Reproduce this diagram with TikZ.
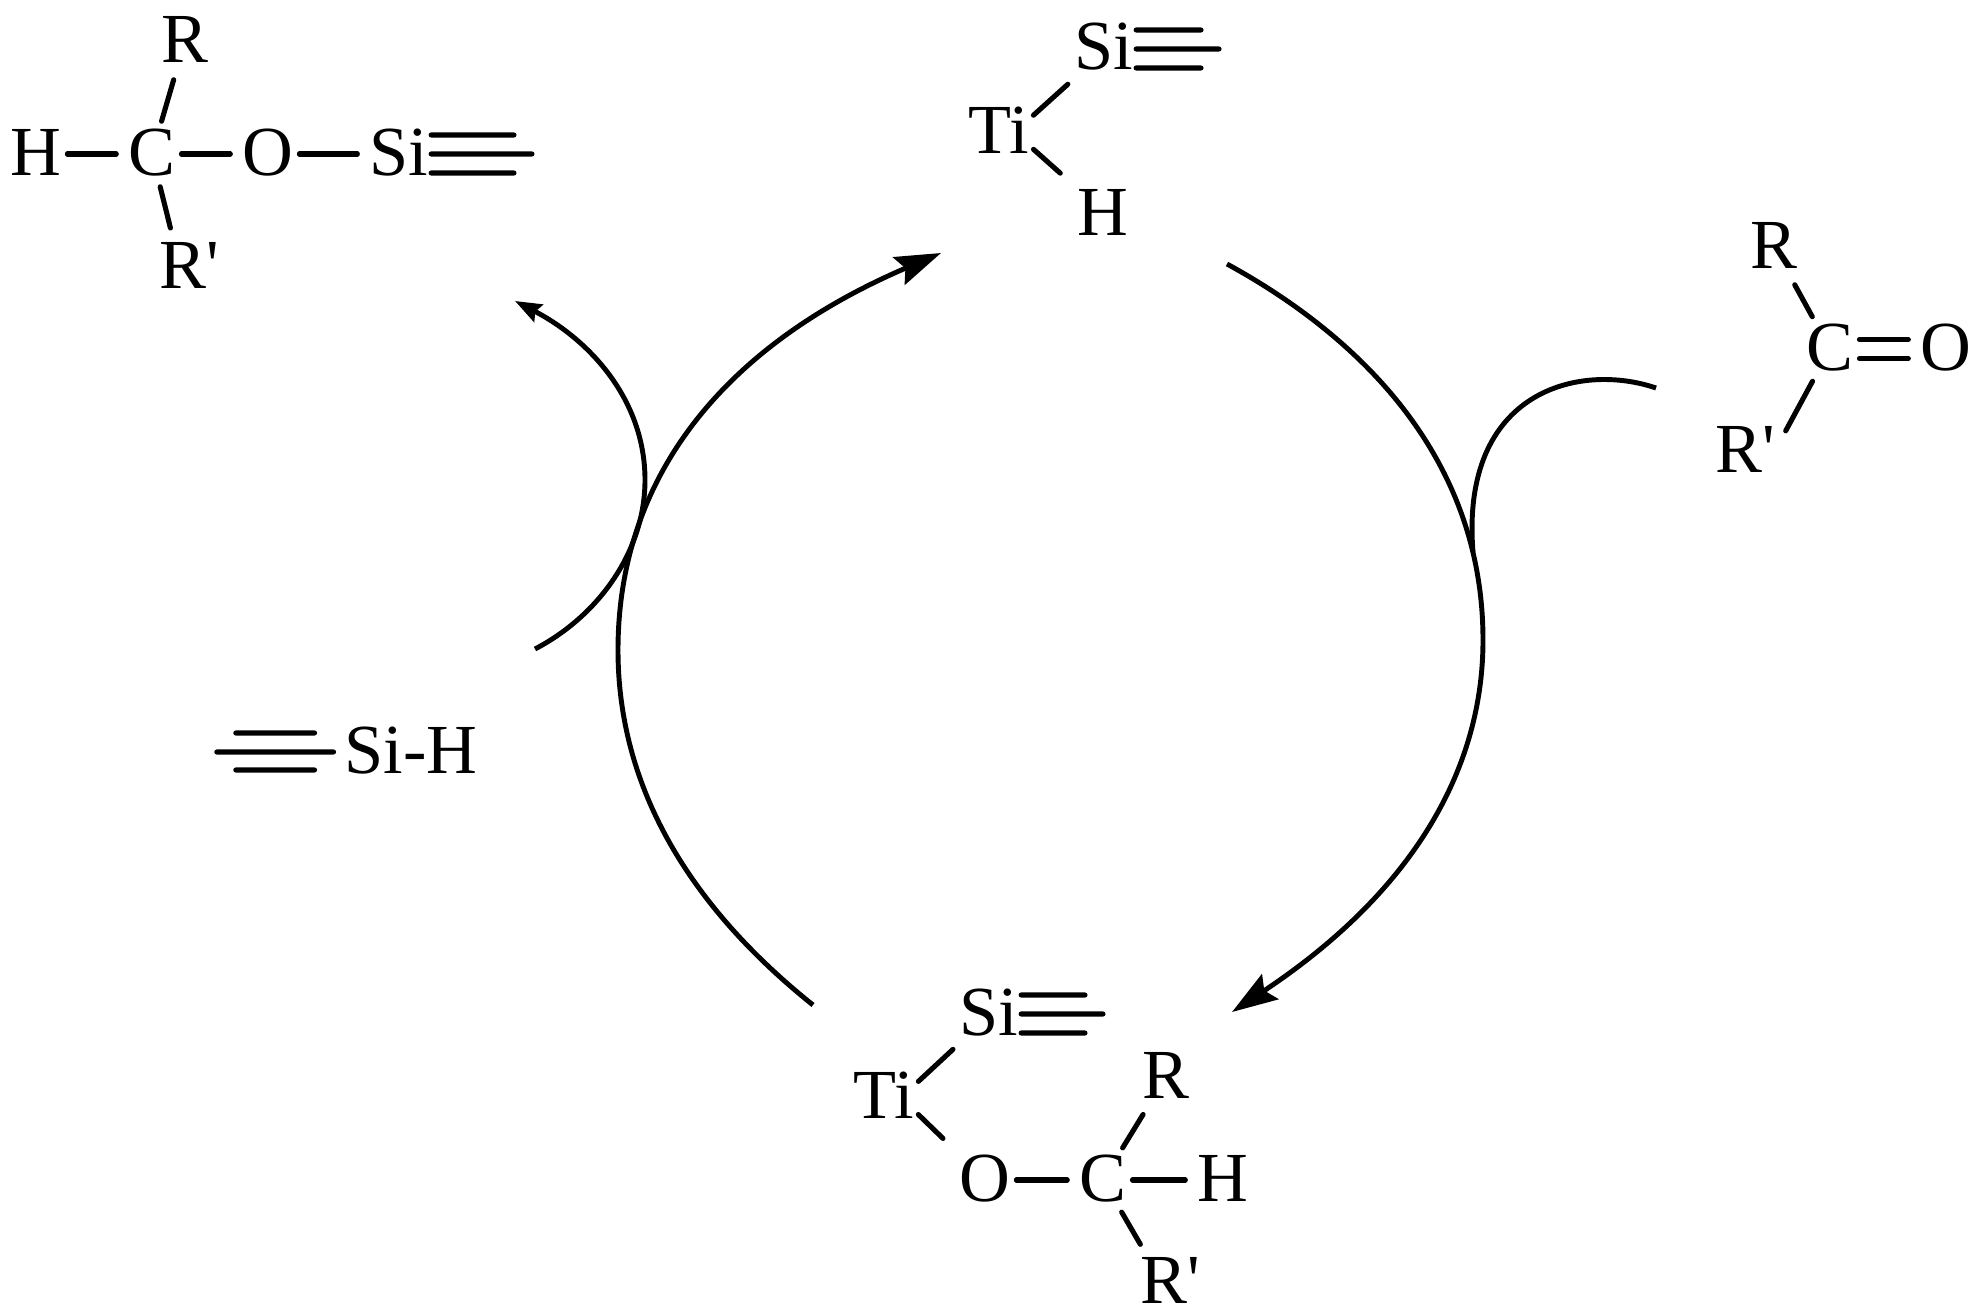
\documentclass[tikz,border=0pt]{standalone}
\usepackage{fontspec}
\usetikzlibrary{arrows.meta}
\newfontfamily\atomfont{Liberation Serif}
\tikzset{
	atom/.style={anchor=base,inner sep=0pt,outer sep=0pt,text height=13.66pt,text depth=1.7pt,font=\atomfont\fontsize{20}{24}\selectfont},
	bond/.style={line width=1.45pt,line cap=round,shorten <=1.7pt,shorten >=3.5pt},
	tbond/.style={line width=1.45pt,line cap=round,shorten <=0.8pt},
	cycle arrow/.style={line width=1.4pt,-{Stealth[length=13pt,width=8.5pt,inset=2pt]}},
	cycle line/.style={line width=1.4pt},
	side arrow/.style={line width=1.4pt,-{Stealth[length=7.5pt,width=5.5pt,inset=1pt]}}
}
\newcommand{\triplebond}[2]{
	\draw[tbond] (#1.east) -- (#2);
	\draw[tbond] ([shift={(0,-19)}]#1.east) -- ([shift={(-18,-19)}]#2);
	\draw[tbond] ([shift={(0,19)}]#1.east) -- ([shift={(-18,19)}]#2);
}
\begin{document}
\begin{tikzpicture}[x=0.01cm,y=-0.01cm]
	\useasboundingbox (0,0) rectangle (1978,1315);
	% product, top left
	\node[atom] (h1) at (36,175) {H};
	\node[atom] (c1) at (152,175) {C};
	\node[atom] (o1) at (268,175) {O};
	\node[atom] (si1) at (399,175) {Si};
	\node[atom] (r1) at (185,62) {R};
	\node[atom] (r2) at (189,288) {R'};
	\coordinate (t1) at (532,154);
	\draw[bond] (h1) -- (c1);
	\draw[bond] (c1) -- (o1);
	\draw[bond] (o1) -- (si1);
	\draw[bond] (c1) -- (r1);
	\draw[bond] (c1) -- (r2.120);
	\triplebond{si1}{t1}

	% hydride, top
	\node[atom] (ti1) at (999,153) {Ti};
	\node[atom] (si2) at (1104,70) {Si};
	\node[atom] (h2) at (1103,235) {H};
	\coordinate (t2) at (1219,49);
	\draw[bond] (ti1.23) -- (si2.225);
	\draw[bond,shorten >=6.6pt] (ti1.-24) -- (h2.135);
	\triplebond{si2}{t2}

	% ketone, right
	\node[atom] (c2) at (1830,370) {C};
	\node[atom] (o2) at (1946,370) {O};
	\node[atom] (r3) at (1774,268) {R};
	\node[atom] (r4) at (1745,472) {R'};
	\draw[bond] (c2) -- (r3);
	\draw[bond,shorten >=6.5pt] (c2) -- (r4.east);
	\draw[bond] ([shift={(0,-9.5)}]c2.east) -- ([shift={(0,-9.5)}]o2.west);
	\draw[bond] ([shift={(0,9.5)}]c2.east) -- ([shift={(0,9.5)}]o2.west);

	% alkoxide, bottom
	\node[atom] (ti2) at (884,1118) {Ti};
	\node[atom] (si3) at (989,1035) {Si};
	\node[atom] (o3) at (985,1201) {O};
	\node[atom] (c3) at (1103,1201) {C};
	\node[atom] (h3) at (1223,1201) {H};
	\node[atom] (r5) at (1166,1098) {R};
	\node[atom] (r6) at (1170,1303) {R'};
	\coordinate (t3) at (1103,1014);
	\draw[bond] (ti2.21) -- (si3.225);
	\draw[bond,shorten >=6.6pt] (ti2.-24) -- (o3.135);
	\draw[bond] (o3) -- (c3);
	\draw[bond] (c3) -- (h3);
	\draw[bond] (c3) -- (r5);
	\draw[bond] (c3) -- (r6.131);
	\triplebond{si3}{t3}

	% silane, left
	\node[atom] (si4) at (411,773) {Si-H};
	\coordinate (t4) at (214,752);
	\draw[tbond] (t4) -- ([xshift=-11*0.01cm]si4.west);
	\draw[tbond] ([shift={(19,-19)}]t4) -- ([shift={(-30,-19)}]si4.west);
	\draw[tbond] ([shift={(19,18)}]t4) -- ([shift={(-30,18)}]si4.west);

	% cycle
	\coordinate (a1) at (813,1005);
	\coordinate (a2) at (618,650);
	\coordinate (a3) at (941,253);
	\coordinate (b1) at (1227,264);
	\coordinate (b2) at (1483,640);
	\coordinate (b3) at (1232,1012);
	\draw[cycle line] (a1) .. controls (703,917) and (618,800) .. (a2);
	\draw[cycle arrow] (a2) .. controls (618,475) and (726,345) .. (a3);
	\draw[cycle line] (b1) .. controls (1357,335) and (1483,455) .. (b2);
	\draw[cycle arrow] (b2) .. controls (1483,775) and (1407,896) .. (b3);

	% side arcs
	\coordinate (d1) at (1656,388);
	\coordinate (d2) at (1473,552);
	\coordinate (e1) at (535,649);
	\coordinate (e2) at (645,480);
	\coordinate (e3) at (515,301);
	\draw[cycle line] (d1) .. controls (1580,362) and (1460,390) .. (d2);
	\draw[cycle line] (e1) .. controls (600,615) and (645,550) .. (e2);
	\draw[side arrow] (e2) .. controls (645,400) and (590,340) .. (e3);
\end{tikzpicture}
\end{document}
